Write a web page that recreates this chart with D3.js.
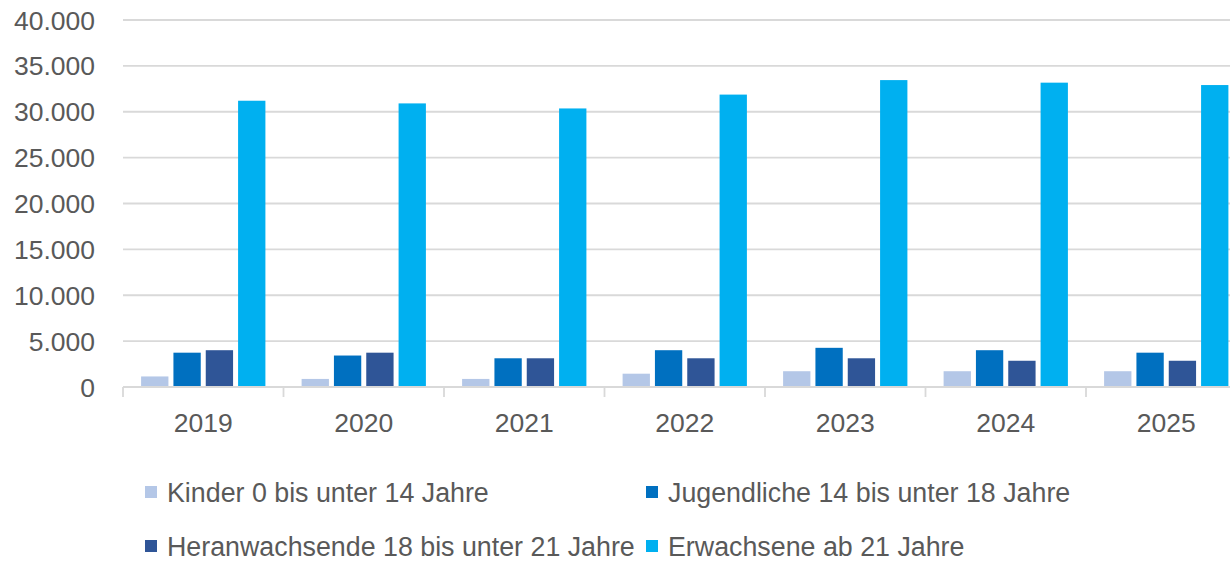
<!DOCTYPE html>
<html>
<head>
<meta charset="utf-8">
<script src="https://cdn.jsdelivr.net/npm/d3@7"></script>
<style>
	body { margin: 0; background: #fff; }
	svg text { font-family: 'Liberation Sans', Arial, sans-serif; fill: #595959; }
</style>
</head>
<body>
<svg id="chart"></svg>
<script>
const W = 1230;
const H = 564;

const years = ["2019", "2020", "2021", "2022", "2023", "2024", "2025"];
const seriesNames = [
	"Kinder 0 bis unter 14 Jahre",
	"Jugendliche 14 bis unter 18 Jahre",
	"Heranwachsende 18 bis unter 21 Jahre",
	"Erwachsene ab 21 Jahre"
];
const kinder = [1150, 880, 880, 1450, 1720, 1720, 1720];
const jugendliche = [3740, 3430, 3130, 4010, 4270, 4010, 3740];
const heranwachsende = [4010, 3740, 3130, 3130, 3130, 2860, 2860];
const erwachsene = [31200, 30910, 30360, 31870, 33450, 33170, 32910];
const yTicks = [0, 5000, 10000, 15000, 20000, 25000, 30000, 35000, 40000];
const colors = ["#B4C7E7", "#0070C0", "#2F5597", "#00B0F0"];

const series = [kinder, jugendliche, heranwachsende, erwachsene];
const fmt = d3.formatLocale({ decimal: ",", thousands: ".", grouping: [3], currency: ["", " €"] }).format(",d");

const svg = d3.select("#chart").attr("width", W).attr("height", H);

const x = d3.scaleBand().domain(years).range([123, 1246.5]).padding(0);
const xInner = d3.scaleBand().domain(d3.range(4)).range([0, x.bandwidth()]).paddingInner(0.155).paddingOuter(0.56);
const y = d3.scaleLinear().domain([0, 40000]).range([387, 20]);

// gridlines
svg.append("g").selectAll("line").data(yTicks.filter(d => d > 0)).enter().append("line")
	.attr("x1", 123).attr("x2", W)
	.attr("y1", d => y(d)).attr("y2", d => y(d))
	.attr("stroke", "#d9d9d9").attr("stroke-width", 1.8);

// y labels
svg.append("g").selectAll("text").data(yTicks).enter().append("text")
	.attr("x", 95).attr("y", d => y(d))
	.attr("text-anchor", "end").attr("dy", "0.36em")
	.style("font-size", "26.5px")
	.text(d => fmt(d));

// bars
years.forEach((yr, i) => {
	let g = svg.append("g").attr("transform", "translate(" + x(yr) + ",0)");
	g.selectAll("rect").data(series.map((s, k) => ({ k: k, v: s[i] }))).enter().append("rect")
		.attr("x", d => xInner(d.k))
		.attr("width", xInner.bandwidth())
		.attr("y", d => y(d.v))
		.attr("height", d => y(0) - y(d.v))
		.attr("fill", d => colors[d.k]);
});

// x axis line and ticks
svg.append("line")
	.attr("x1", 123).attr("x2", 1246.5).attr("y1", y(0)).attr("y2", y(0))
	.attr("stroke", "#d9d9d9").attr("stroke-width", 1.8);
let bounds = years.map(d => x(d)).concat([x(years[years.length - 1]) + x.bandwidth()]);
svg.append("g").selectAll("line").data(bounds).enter().append("line")
	.attr("x1", d => d).attr("x2", d => d)
	.attr("y1", y(0)).attr("y2", y(0) + 10)
	.attr("stroke", "#d9d9d9").attr("stroke-width", 1.8);

// year labels
svg.append("g").selectAll("text").data(years).enter().append("text")
	.attr("x", d => x(d) + x.bandwidth() / 2)
	.attr("y", 422).attr("dy", "0.36em")
	.attr("text-anchor", "middle")
	.style("font-size", "26.5px")
	.text(d => d);

// legend
const legendPos = [
	{ x: 145, y: 492 }, { x: 646, y: 492 },
	{ x: 145, y: 546 }, { x: 646, y: 546 }
];
let leg = svg.append("g").selectAll("g").data(seriesNames).enter().append("g")
	.attr("transform", (d, i) => "translate(" + legendPos[i].x + "," + legendPos[i].y + ")");
leg.append("rect")
	.attr("x", 0).attr("y", -6).attr("width", 12).attr("height", 12)
	.attr("fill", (d, i) => colors[i]);
leg.append("text")
	.attr("x", 22).attr("dy", "0.36em")
	.style("font-size", "26.8px")
	.text(d => d);
</script>
</body>
</html>
